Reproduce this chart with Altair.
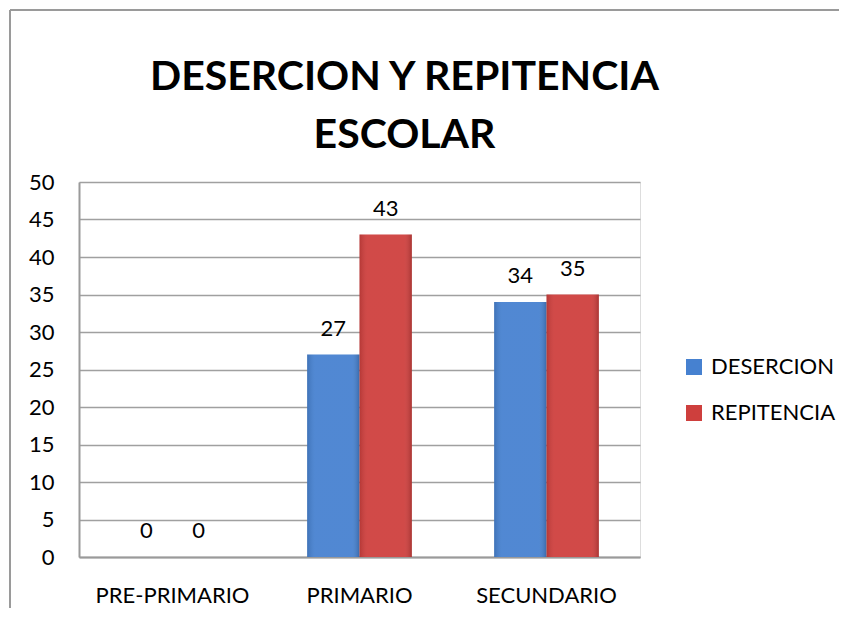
import altair as alt
import pandas as pd

categories = ["PRE-PRIMARIO", "PRIMARIO", "SECUNDARIO"]
series = ["DESERCION", "REPITENCIA"]
desercion = [0, 27, 34]
repitencia = [0, 43, 35]
colors = ["#4681D0", "#CE3F3D"]
title_lines = ["DESERCION Y REPITENCIA", "ESCOLAR"]

rows = []
for c, d, r in zip(categories, desercion, repitencia):
    rows.append({"nivel": c, "serie": series[0], "valor": d})
    rows.append({"nivel": c, "serie": series[1], "valor": r})
df = pd.DataFrame(rows)

W, H = 561, 375
PL, PT, PR, PB = 71, 174, 199, 51
FONT = "Lato"

x = alt.X("nivel:N", sort=categories, title=None,
          scale=alt.Scale(paddingInner=0.44, paddingOuter=0.22),
          axis=alt.Axis(labelAngle=0, ticks=False, labelPadding=28, labelFontSize=22,
                        labelFont=FONT, labelColor="black", domainColor="#9A9A9A",
                        domainWidth=2, grid=False))
y = alt.Y("valor:Q", title=None, scale=alt.Scale(domain=[0, 50], nice=False),
          axis=alt.Axis(values=list(range(0, 51, 5)), ticks=False, labelPadding=25,
                        labelFontSize=22, labelFont=FONT, labelColor="black",
                        domainColor="#9A9A9A", domainWidth=2, gridColor="#A0A0A0",
                        gridWidth=1.5))
xo = alt.XOffset("serie:N", sort=series)

base = alt.Chart(df)

bars = base.mark_bar().encode(
    x=x, y=y, xOffset=xo,
    color=alt.Color("serie:N", sort=series,
                    scale=alt.Scale(domain=series, range=colors),
                    legend=alt.Legend(title=None, orient="none", legendX=604, legendY=174,
                                      symbolType="square", symbolSize=256,
                                      symbolStrokeWidth=0, labelFontSize=22, labelFont=FONT,
                                      labelColor="black", rowPadding=24, labelOffset=6,
                                      padding=0)),
)

shade = base.mark_bar(
    fill=alt.Gradient(
        gradient="linear", x1=0, x2=1, y1=0, y2=0,
        stops=[alt.GradientStop(offset=0, color="rgba(0,0,0,0.12)"),
               alt.GradientStop(offset=0.15, color="rgba(255,255,255,0.06)"),
               alt.GradientStop(offset=0.85, color="rgba(255,255,255,0.06)"),
               alt.GradientStop(offset=1, color="rgba(0,0,0,0.18)")]),
).encode(x=x, y=y, xOffset=xo)

labels = base.mark_text(baseline="alphabetic", dy=-19, fontSize=22, font=FONT,
                        color="black").encode(
    x=x, y=y, xOffset=xo, text=alt.Text("valor:Q"))

one = pd.DataFrame({"k": [0]})
frame_v = alt.Chart(one).mark_rule(color="#9A9A9A", strokeWidth=2).encode(
    x=alt.value(-69), y=alt.value(-172), y2=alt.value(H + PB))
frame_h = alt.Chart(one).mark_rule(color="#9A9A9A", strokeWidth=2).encode(
    x=alt.value(-69), x2=alt.value(W + PR), y=alt.value(-172))

title = alt.Chart(one).mark_text(
    text=title_lines, fontSize=41, font=FONT, fontWeight="bold", color="black",
    align="center", baseline="alphabetic", lineHeight=58,
).encode(x=alt.value(W / 2 + 45), y=alt.value(-92))

chart = alt.layer(frame_v, frame_h, title, bars, shade, labels).properties(
    width=W, height=H,
    autosize=alt.AutoSizeParams(type="none"),
    padding={"left": PL, "top": PT, "right": PR, "bottom": PB},
).configure_view(stroke=None).configure(background="white")

chart.save("out.html", embed_options={"renderer": "svg", "actions": False})
